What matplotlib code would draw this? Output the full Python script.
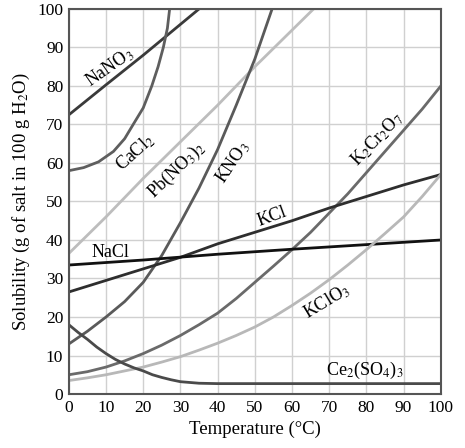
import matplotlib.pyplot as plt

# datos (temperatura en C, solubilidad en g / 100 g H2O)
t_nano3 = [0, 10, 20, 30, 40]
s_nano3 = [72.5, 80.3, 88, 96, 104]

t_cacl2 = [0, 4, 8, 12, 15, 17.3, 20, 22.3, 24, 25.4, 26.5, 27.1, 27.6]
s_cacl2 = [58, 58.8, 60.3, 63, 66.3, 70, 74.3, 80, 85, 90, 95, 100, 105]

t_pb = [0, 10, 20, 30, 40, 50, 60, 70]
s_pb = [36.5, 46, 56, 65.5, 75, 85, 94.5, 104]

t_kno3 = [0, 5, 10, 15, 20, 25, 30, 35, 40, 45, 50, 55]
s_kno3 = [13, 16.3, 20, 24, 29, 36, 44.5, 53.5, 63.5, 75, 87, 101]

t_k2cr2o7 = [0, 5, 10, 15, 20, 25, 30, 35, 40, 45, 50, 55, 60, 65, 70, 75, 80, 85, 90, 95, 100]
s_k2cr2o7 = [5, 5.8, 7, 8.6, 10.5, 12.7, 15.2, 18, 21, 24.8, 29, 33.2, 37.5, 42, 47, 52, 57.5, 63, 68.5, 74, 80]

t_kcl = [0, 10, 20, 30, 40, 50, 60, 70, 80, 90, 100]
s_kcl = [26.5, 29.5, 32.5, 35.5, 39, 42, 45, 48.3, 51.3, 54.3, 57]

t_nacl = [0, 20, 40, 60, 80, 100]
s_nacl = [33.5, 34.8, 36.3, 37.6, 38.8, 40]

t_kclo3 = [0, 5, 10, 15, 20, 25, 30, 35, 40, 45, 50, 55, 60, 65, 70, 75, 80, 85, 90, 95, 100]
s_kclo3 = [3.5, 4.2, 5, 6, 7, 8.3, 9.7, 11.4, 13.2, 15.2, 17.4, 20, 23, 26.2, 29.7, 33.5, 37.5, 41.7, 46, 51.3, 57]

t_ce = [0, 2.5, 5, 7.5, 10, 12.5, 15, 17.5, 20, 22.5, 25, 27.5, 30, 35, 40, 100]
s_ce = [18, 16, 14.2, 12.2, 10.5, 9, 7.8, 6.8, 6, 5, 4.3, 3.7, 3.2, 2.8, 2.7, 2.7]

ticks = list(range(0, 101, 10))

plt.rcParams['font.family'] = ['Liberation Serif', 'DejaVu Serif']
plt.rcParams['mathtext.fontset'] = 'stix'

fig = plt.figure(figsize=(4.65, 4.48), dpi=100)
ax = fig.add_axes([0.148, 0.1205, 0.8, 0.8595])

ax.plot(t_nano3, s_nano3, color='#3a3a3a', lw=2)
ax.plot(t_cacl2, s_cacl2, color='#5e5e5e', lw=2)
ax.plot(t_pb, s_pb, color='#bdbdbd', lw=2)
ax.plot(t_kno3, s_kno3, color='#5a5a5a', lw=2)
ax.plot(t_k2cr2o7, s_k2cr2o7, color='#6a6a6a', lw=2)
ax.plot(t_kcl, s_kcl, color='#2e2e2e', lw=2)
ax.plot(t_nacl, s_nacl, color='#111111', lw=2)
ax.plot(t_kclo3, s_kclo3, color='#b8b8b8', lw=2)
ax.plot(t_ce, s_ce, color='#4a4a4a', lw=2)

# etiquetas de las curvas
fs = 13
ax.text(10.9, 84.8, r'NaNO$_3$', rotation=35, ha='center', va='center', fontsize=fs)
ax.text(18, 62.6, r'CaCl$_2$', rotation=42, ha='center', va='center', fontsize=fs)
ax.text(29, 58.2, r'Pb(NO$_3$)$_2$', rotation=44, ha='center', va='center', fontsize=fs)
ax.text(44.2, 60.2, r'KNO$_3$', rotation=56, ha='center', va='center', fontsize=fs)
ax.text(83, 66.2, r'K$_2$Cr$_2$O$_7$', rotation=46, ha='center', va='center', fontsize=fs)
ax.text(54.6, 46, 'KCl', rotation=20, ha='center', va='center', fontsize=fs)
ax.text(11.3, 36.8, 'NaCl', rotation=0, ha='center', va='center', fontsize=fs)
ax.text(69.4, 24, r'KClO$_3$', rotation=31, ha='center', va='center', fontsize=fs)
ax.text(79.6, 6, r'Ce$_2$(SO$_4$)$_3$', rotation=0, ha='center', va='center', fontsize=fs)

ax.set_xlim(0, 100)
ax.set_ylim(0, 100)
ax.set_xticks(ticks)
ax.set_yticks(ticks)
ax.tick_params(labelsize=12.5, length=0, pad=4)
ax.grid(True, color='#d0d0d0', lw=1)
ax.set_axisbelow(True)
for sp in ax.spines.values():
    sp.set_color('#555555')
    sp.set_linewidth(1.5)

ax.set_xlabel('Temperature (°C)', fontsize=13.5)
ax.set_ylabel(r'Solubility (g of salt in 100 g H$_2$O)', fontsize=13.5)

fig.savefig('out.png', dpi=100)
